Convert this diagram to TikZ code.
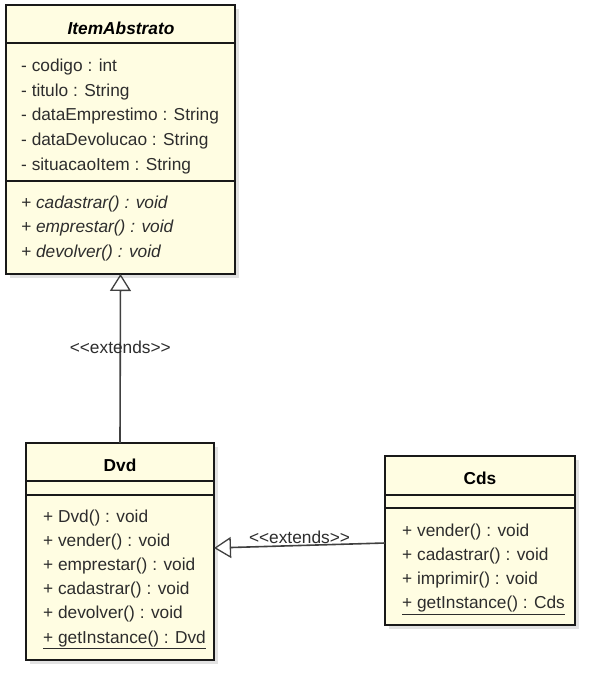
\documentclass[tikz,border=0pt]{standalone}
\usepackage{fontspec}
\setmainfont{Liberation Sans}
\usetikzlibrary{arrows.meta,shadows}
\definecolor{classfill}{RGB}{255,253,226}
\definecolor{membertext}{RGB}{45,45,45}
\tikzset{
  classbox/.style={draw=black!90, line width=2.2pt, fill=classfill, inner sep=0pt, outer sep=0pt,
    drop shadow={shadow xshift=4pt, shadow yshift=-4pt, fill=black!22}},
  member/.style={anchor=west, inner sep=0pt, text height=12.5pt, text depth=3.5pt, text=membertext},
  classname/.style={inner sep=0pt, text=black},
  sepline/.style={line width=1.8pt, draw=black!90},
  inherits/.style={line width=1.6pt, draw=black!75, -{Triangle[open, length=17pt, width=21pt, line width=1.3pt]}},
  stereo/.style={text=membertext}
}
\begin{document}
\begin{tikzpicture}[x=1pt, y=-1pt, font=\fontsize{17.3}{20}\selectfont]
  \useasboundingbox[fill=white] (0,0) rectangle (590,682);

  % Draw the class boxes
  \node[classbox, minimum width=229pt, minimum height=269pt] (item) at (120.5,139.5) {};
  \node[classbox, minimum width=188pt, minimum height=217pt] (dvd) at (120,551.5) {};
  \node[classbox, minimum width=190pt, minimum height=169pt] (cds) at (480,540.5) {};

  % Draw the compartment lines
  \draw[sepline] ([yshift=-38pt]item.north west) -- ([yshift=-38pt]item.north east);
  \draw[sepline] ([yshift=-176pt]item.north west) -- ([yshift=-176pt]item.north east);
  \draw[sepline] ([yshift=-38pt]dvd.north west) -- ([yshift=-38pt]dvd.north east);
  \draw[sepline] ([yshift=-52pt]dvd.north west) -- ([yshift=-52pt]dvd.north east);
  \draw[sepline] ([yshift=-39pt]cds.north west) -- ([yshift=-39pt]cds.north east);
  \draw[sepline] ([yshift=-52pt]cds.north west) -- ([yshift=-52pt]cds.north east);

  % Class names
  \node[classname] (itemname) at (121,28) {\bfseries\itshape ItemAbstrato};
  \node[classname] (dvdname) at (120,465) {\bfseries Dvd};
  \node[classname] (cdsname) at (480,478) {\bfseries Cds};

  % Attributes and methods
  \foreach \m [count=\i from 0] in {- codigo : int, - titulo : String, - dataEmprestimo : String,
      - dataDevolucao : String, - situacaoItem : String}
    \node[member] (itemattr\i) at (21,67.5+24.5*\i) {\m};
  \foreach \m [count=\i from 0] in {+ cadastrar() : void, + emprestar() : void, + devolver() : void}
    \node[member] (itemop\i) at (21,203.5+24.5*\i) {\itshape\m};
  \foreach \m [count=\i from 0] in {+ Dvd() : void, + vender() : void, + emprestar() : void,
      + cadastrar() : void, + devolver() : void, \underline{+ getInstance() : Dvd}}
    \node[member] (dvdop\i) at (43,518+24.1*\i) {\m};
  \foreach \m [count=\i from 0] in {+ vender() : void, + cadastrar() : void, + imprimir() : void,
      \underline{+ getInstance() : Cds}}
    \node[member] (cdsop\i) at (402,531.5+24.3*\i) {\m};

  % Draw the inheritance arrows
  \draw[inherits] (dvd.north) -- node[stereo, pos=0.565] (extitem) {<\kern0pt<extends>\kern0pt>} (item.south);
  \draw[inherits] ([yshift=-2.5pt]cds.west) -- node[stereo, above, inner sep=1.5pt] (extdvd)
    {<\kern0pt<extends>\kern0pt>} ([yshift=3.5pt]dvd.east);
\end{tikzpicture}
\end{document}
